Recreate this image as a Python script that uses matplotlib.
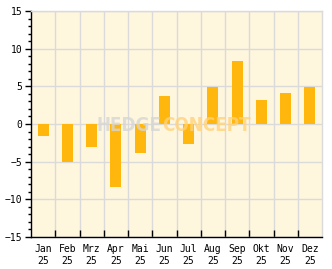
import numpy as np
import matplotlib.pyplot as plt
from matplotlib.ticker import MultipleLocator
from matplotlib import font_manager

months = ['Jan', 'Feb', 'Mrz', 'Apr', 'Mai', 'Jun', 'Jul', 'Aug', 'Sep', 'Okt', 'Nov', 'Dez']
year = '25'
values = [-1.6, -5.1, -3.0, -8.3, -3.8, 3.7, -2.7, 4.9, 8.4, 3.2, 4.1, 4.9]

bar_color = '#FFB60D'
bg_color = '#FFF6DE'
grid_color = '#DADADA'

fig = plt.figure(figsize=(3.32, 2.69), dpi=100)
ax = fig.add_axes([31 / 332, 1 - 237 / 269, 291 / 332, 226 / 269])
ax.set_facecolor(bg_color)

x = np.arange(len(months))
ax.bar(x, values, width=0.45, color=bar_color, zorder=3)

ax.set_xlim(-0.5, len(months) - 0.5)
ax.set_ylim(-15, 15)

ax.set_xticks(x)
ax.set_xticklabels([m + '\n' + year for m in months], family='DejaVu Sans Mono',
                   fontsize=7, linespacing=1.25)
ax.set_xticks(np.arange(0.5, len(months) - 1, 1), minor=True)
ax.tick_params(axis='x', which='major', length=0, pad=5)
ax.tick_params(axis='x', which='minor', length=5, direction='in', width=1, color='black')

ax.yaxis.set_major_locator(MultipleLocator(5))
ax.yaxis.set_minor_locator(MultipleLocator(1))
ax.tick_params(axis='y', which='major', length=4, width=1, labelsize=7, pad=2)
ax.tick_params(axis='y', which='minor', length=2, width=1)
for lb in ax.get_yticklabels():
    lb.set_family('DejaVu Sans Mono')

ax.grid(True, which='major', axis='y', color=grid_color, lw=1, zorder=1)
ax.grid(True, which='minor', axis='x', color=grid_color, lw=1, zorder=1)

ax.spines['left'].set_color('black')
ax.spines['bottom'].set_color('black')
ax.spines['top'].set_color(grid_color)
ax.spines['right'].set_color(grid_color)
for s in ax.spines.values():
    s.set_linewidth(1)

# watermark
fp = font_manager.FontProperties(family='DejaVu Sans', weight='bold', stretch='condensed', size=13.5)
ax.text(0.45, 0.495, 'HEDGE', transform=ax.transAxes, ha='right', va='center',
        fontproperties=fp, color='#D6D6D6', alpha=0.8, zorder=4)
ax.text(0.45, 0.495, 'CONCEPT', transform=ax.transAxes, ha='left', va='center',
        fontproperties=fp, color='#FFD27A', alpha=0.8, zorder=4)

fig.savefig('out.png', dpi=100)
